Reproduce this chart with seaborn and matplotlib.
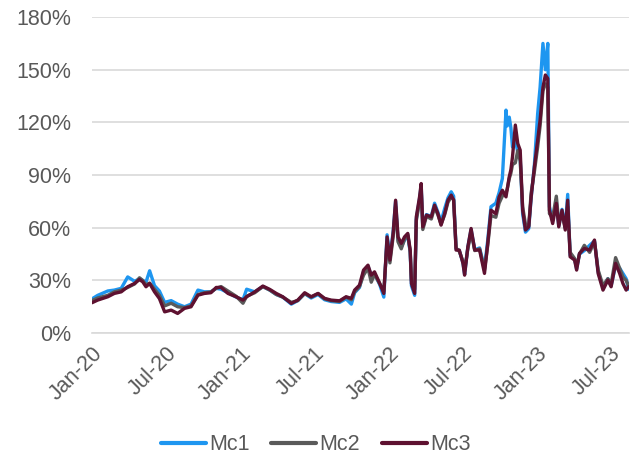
import pandas as pd
import seaborn as sns
import matplotlib.pyplot as plt
import matplotlib.dates as mdates
from matplotlib.ticker import FuncFormatter

# series values (in %)
dates = ["2020-01-01", "2020-01-15", "2020-02-09", "2020-02-25", "2020-03-13", "2020-03-29",
         "2020-04-15", "2020-04-27", "2020-05-05", "2020-05-13", "2020-05-22", "2020-06-03",
         "2020-06-15", "2020-06-28", "2020-07-14", "2020-07-30", "2020-08-16", "2020-09-01",
         "2020-09-18", "2020-10-04", "2020-10-20", "2020-11-02", "2020-11-14", "2020-12-01",
         "2020-12-21", "2021-01-07", "2021-01-16", "2021-02-05", "2021-02-25", "2021-03-14",
         "2021-03-30", "2021-04-15", "2021-05-06", "2021-05-22", "2021-06-08", "2021-06-24",
         "2021-07-11", "2021-07-27", "2021-08-12", "2021-09-02", "2021-09-18", "2021-10-01",
         "2021-10-09", "2021-10-21", "2021-10-31", "2021-11-11", "2021-11-19", "2021-11-27",
         "2021-12-10", "2021-12-20", "2021-12-28", "2022-01-04", "2022-01-12", "2022-01-18",
         "2022-01-24", "2022-02-01", "2022-02-09", "2022-02-17", "2022-02-23", "2022-02-26",
         "2022-03-06", "2022-03-10", "2022-03-18", "2022-03-22", "2022-03-26", "2022-04-04",
         "2022-04-16", "2022-04-24", "2022-05-02", "2022-05-10", "2022-05-19", "2022-05-27",
         "2022-06-04", "2022-06-10", "2022-06-16", "2022-06-24", "2022-07-03", "2022-07-07",
         "2022-07-15", "2022-07-23", "2022-08-01", "2022-08-13", "2022-08-25", "2022-09-02",
         "2022-09-10", "2022-09-22", "2022-09-30", "2022-10-08", "2022-10-17", "2022-10-20",
         "2022-10-25", "2022-10-29", "2022-11-02", "2022-11-09", "2022-11-15", "2022-11-21",
         "2022-11-27", "2022-12-04", "2022-12-12", "2022-12-18", "2022-12-26", "2023-01-03",
         "2023-01-09", "2023-01-16", "2023-01-22", "2023-01-28", "2023-02-01", "2023-02-09",
         "2023-02-18", "2023-02-24", "2023-03-04", "2023-03-12", "2023-03-18", "2023-03-24",
         "2023-04-04", "2023-04-09", "2023-04-16", "2023-04-28", "2023-05-11", "2023-05-23",
         "2023-06-01", "2023-06-13", "2023-06-25", "2023-07-03", "2023-07-14", "2023-07-24",
         "2023-08-01", "2023-08-09", "2023-08-15"]

mc1 = [19.5, 21.5, 24.0, 24.5, 25.5, 32.0, 29.5, 31.0, 30.0, 29.0, 35.5, 27.0,
       24.0, 17.5, 18.5, 16.5, 15.0, 16.5, 24.5, 23.5, 23.5, 25.5, 25.0, 23.0,
       20.5, 19.0, 25.0, 23.5, 26.5, 24.5, 22.0, 20.5, 16.5, 18.5, 22.5, 20.0,
       22.0, 19.0, 18.0, 17.5, 19.5, 16.5, 23.0, 26.0, 35.0, 38.0, 33.0, 34.0,
       27.5, 20.5, 56.0, 43.0, 58.0, 75.0, 53.0, 49.0, 53.0, 55.5, 46.0, 27.0,
       21.5, 65.0, 76.5, 84.0, 60.0, 67.5, 66.5, 74.0, 69.0, 63.5, 71.0, 77.0,
       80.5, 78.0, 48.0, 47.0, 40.0, 33.5, 49.0, 59.0, 47.5, 48.5, 37.0, 53.0,
       72.0, 74.0, 80.0, 88.0, 127.0, 118.0, 123.0, 117.0, 106.0, 110.0, 103.0, 100.0,
       68.0, 57.5, 59.5, 77.0, 96.0, 125.0, 140.0, 165.0, 150.0, 165.0, 72.0, 64.0,
       75.0, 61.0, 70.5, 60.0, 79.0, 44.5, 42.0, 36.5, 45.0, 47.0, 50.0, 52.5,
       35.0, 26.0, 31.0, 27.0, 38.5, 37.0, 34.0, 31.0, 25.0]

mc2 = [18.5, 20.0, 21.5, 23.5, 24.5, 26.0, 28.0, 31.5, 30.0, 27.5, 28.5, 25.0,
       21.5, 15.5, 17.0, 15.0, 14.5, 15.5, 22.0, 23.0, 23.5, 25.5, 26.5, 24.0,
       21.0, 17.0, 21.0, 23.0, 26.5, 24.5, 22.0, 20.5, 17.5, 18.5, 22.5, 20.5,
       22.5, 19.5, 18.5, 18.0, 20.5, 19.0, 23.5, 26.5, 33.0, 37.0, 29.0, 33.5,
       28.0, 24.0, 52.0, 40.0, 55.0, 72.0, 52.0, 48.0, 53.5, 56.0, 46.5, 30.0,
       25.0, 64.0, 75.0, 82.0, 59.0, 66.5, 65.0, 71.5, 67.5, 62.0, 67.5, 74.5,
       77.5, 76.0, 48.5, 46.5, 41.0, 36.0, 48.0, 57.5, 47.0, 48.0, 36.0, 50.0,
       67.0, 66.0, 74.0, 78.0, 80.0, 82.0, 88.0, 91.0, 96.0, 97.0, 104.0, 98.0,
       72.0, 62.0, 61.0, 80.0, 92.0, 106.0, 118.0, 138.0, 142.0, 140.0, 68.0, 66.0,
       78.0, 63.0, 68.0, 60.0, 72.0, 46.0, 42.5, 38.0, 45.0, 50.0, 46.0, 52.0,
       36.0, 27.0, 31.0, 28.0, 43.0, 37.0, 32.0, 30.0, 27.0]

mc3 = [17.3, 18.8, 20.7, 22.6, 23.5, 26.4, 28.3, 30.5, 29.2, 26.4, 28.3, 23.5,
       19.7, 12.1, 13.1, 11.2, 14.1, 15.0, 21.6, 22.6, 23.0, 26.0, 26.0, 22.6,
       20.7, 18.8, 20.7, 23.5, 26.8, 24.9, 22.6, 20.7, 16.9, 18.8, 23.0, 20.7,
       22.6, 19.8, 18.8, 18.4, 20.7, 19.8, 24.5, 27.3, 35.9, 38.7, 33.0, 34.9,
       28.3, 22.6, 54.8, 41.6, 56.8, 75.7, 54.8, 51.1, 54.8, 56.8, 47.3, 28.3,
       22.6, 66.2, 77.6, 85.2, 60.5, 67.2, 66.2, 72.9, 68.2, 61.5, 68.2, 75.7,
       78.6, 75.7, 47.3, 47.3, 39.7, 33.0, 49.1, 59.6, 47.3, 47.3, 34.0, 51.1,
       70.0, 68.0, 77.6, 81.4, 77.6, 82.0, 89.0, 93.0, 100.4, 118.5, 108.0, 104.2,
       70.0, 58.7, 60.5, 77.6, 94.7, 109.9, 121.3, 140.0, 147.0, 145.0, 70.0, 62.4,
       73.9, 60.5, 70.0, 58.7, 75.7, 43.5, 41.6, 35.9, 45.4, 48.2, 47.3, 53.0,
       34.0, 24.5, 30.2, 26.4, 39.7, 34.0, 28.3, 24.5, 26.4]

names = ["Mc1", "Mc2", "Mc3"]
colors = {"Mc1": "#1E96F0", "Mc2": "#5A5A5A", "Mc3": "#5E1130"}

frames = []
for name, vals in zip(names, [mc1, mc2, mc3]):
    frames.append(pd.DataFrame({"date": pd.to_datetime(dates), "value": vals, "series": name}))
df = pd.concat(frames, ignore_index=True)

sns.set_style("white")
plt.rcParams["font.family"] = ["Liberation Sans", "DejaVu Sans"]

fig = plt.figure(figsize=(6.31, 4.62), dpi=100)
ax = fig.add_axes([0.1458, 0.279, 0.851, 0.684])

sns.lineplot(data=df, x="date", y="value", hue="series", palette=colors,
             linewidth=2.4, ax=ax)

ax.set_ylim(0, 180)
ax.set_yticks(range(0, 181, 30))
ax.yaxis.set_major_formatter(FuncFormatter(lambda v, p: f"{int(v)}%"))
ax.set_xlim(pd.Timestamp("2020-01-01"), pd.Timestamp("2023-08-16"))
ax.xaxis.set_major_locator(mdates.MonthLocator(bymonth=[1, 7]))
ax.xaxis.set_major_formatter(mdates.DateFormatter("%b-%y"))

ax.grid(axis="y", color="#D9D9D9", linewidth=1.2)
ax.set_axisbelow(True)
for side in ["top", "right", "left"]:
    ax.spines[side].set_visible(False)
ax.spines["bottom"].set_color("#D9D9D9")
ax.spines["bottom"].set_linewidth(1.2)

ax.tick_params(axis="x", colors="#D9D9D9", length=5, width=1.2, labelcolor="#595959",
               labelsize=15.5, pad=2)
ax.tick_params(axis="y", length=0, labelcolor="#595959", labelsize=15.5, pad=15)
plt.setp(ax.get_xticklabels(), rotation=45, ha="right", rotation_mode="anchor")
ax.set_xlabel("")
ax.set_ylabel("")

sns.move_legend(ax, "center", bbox_to_anchor=(0.5, 0.037), bbox_transform=fig.transFigure,
                ncol=3, frameon=False, title=None, fontsize=15.5,
                handlelength=2.1, handletextpad=0.15, columnspacing=1.0)
for line in ax.get_legend().get_lines():
    line.set_linewidth(3)
for t in ax.get_legend().get_texts():
    t.set_color("#595959")

plt.savefig("out.png", dpi=100)
